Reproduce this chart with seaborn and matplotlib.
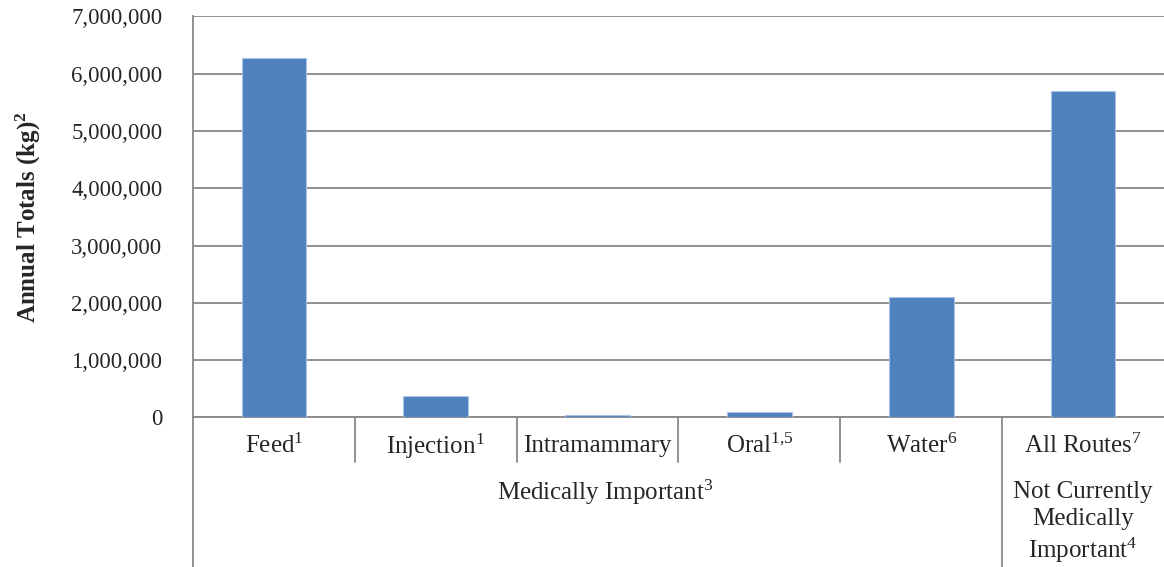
import matplotlib
matplotlib.use("Agg")
import matplotlib.pyplot as plt
import matplotlib.ticker as mticker
import seaborn as sns

# data
categories = ["Feed$^{1}$", "Injection$^{1}$", "Intramammary", "Oral$^{1{,}5}$", "Water$^{6}$", "All Routes$^{7}$"]
values = [6270000, 370000, 45000, 100000, 2095000, 5705000]
group_labels = ["Medically Important$^{3}$", "Not Currently\nMedically\nImportant$^{4}$"]
yticks = [0, 1000000, 2000000, 3000000, 4000000, 5000000, 6000000, 7000000]

sns.set_style("white")
plt.rcParams["font.family"] = ["Liberation Serif", "DejaVu Serif"]
plt.rcParams["mathtext.fontset"] = "custom"
plt.rcParams["mathtext.rm"] = "Liberation Serif"
plt.rcParams["mathtext.bf"] = "Liberation Serif:bold"
plt.rcParams["mathtext.default"] = "rm"

fig = plt.figure(figsize=(11.64, 5.67), dpi=100)
ax = fig.add_axes([0.1658, 0.264, 0.8342, 0.707])

sns.barplot(x=categories, y=values, color="#4F81BD", width=0.4, saturation=1,
            edgecolor="#A9C4E6", linewidth=0.8, ax=ax, zorder=3)

ax.set_ylim(0, 7000000)
ax.set_xlim(-0.5, 5.5)
ax.set_yticks(yticks)
ax.yaxis.set_major_formatter(mticker.FuncFormatter(lambda v, p: f"{int(v):,}"))
ax.tick_params(axis="y", labelsize=16.5, length=6, color="#888888", direction="out", pad=16)
ax.tick_params(axis="x", length=0, labelbottom=False)
ax.grid(axis="y", color="#888888", linewidth=1.3, zorder=0)
for s in ["top", "right"]:
    ax.spines[s].set_visible(False)
for s in ["left", "bottom"]:
    ax.spines[s].set_color("#888888")
    ax.spines[s].set_linewidth(1.3)
ax.set_ylabel("Annual Totals (kg)$^{\\mathbf{2}}$", fontsize=18, fontweight="bold", labelpad=20)

tr = ax.get_xaxis_transform()
# category separators below the axis
for i in range(len(categories) - 1):
    low = -0.373 if i == 4 else -0.112
    ax.plot([i + 0.5, i + 0.5], [0, low], transform=tr, color="#888888", lw=1.3, clip_on=False)
ax.plot([-0.5, -0.5], [0, -0.373], transform=tr, color="#888888", lw=1.3, clip_on=False)

for i, c in enumerate(categories):
    ax.text(i, -0.072, c, transform=tr, ha="center", va="center", fontsize=18)

ax.text(2.05, -0.188, group_labels[0], transform=tr, ha="center", va="center", fontsize=18)
ax.text(5, -0.16, group_labels[1], transform=tr, ha="center", va="top", fontsize=18,
        linespacing=1.25)

fig.savefig("out.png", dpi=100)
